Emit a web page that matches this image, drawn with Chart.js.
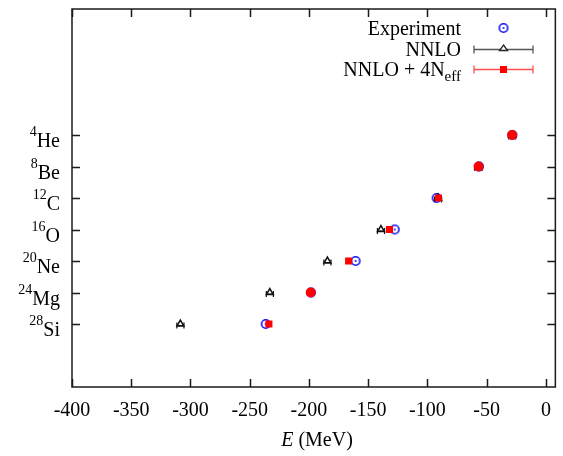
<!DOCTYPE html>
<html>
<head>
<meta charset="utf-8">
<script src="https://cdn.jsdelivr.net/npm/chart.js@4"></script>
<style>
html, body { margin: 0; padding: 0; background: #fff; }
</style>
</head>
<body>
<canvas id="myChart" width="563" height="456"></canvas>
<script>
// nuclei: mass number and symbol
const massNumbers = [4, 8, 12, 16, 20, 24, 28];
const symbols = ['He', 'Be', 'C', 'O', 'Ne', 'Mg', 'Si'];

// ground state energies (MeV)
const experiment = [-28.3, -56.5, -92.2, -127.6, -160.6, -198.3, -236.5];
const nnlo = [-28.5, -57.0, -91.0, -139.2, -184.4, -233.0, -308.5];
const nnlo4n = [-28.5, -56.8, -90.7, -132.0, -166.5, -198.5, -233.8];
// horizontal error bars (MeV)
const nnloErr = [3, 3, 3, 3, 3, 3, 3];

const xTicks = [-400, -350, -300, -250, -200, -150, -100, -50, 0];

const serif = '"Liberation Serif", "DejaVu Serif", serif';
const blue = '#1010f0';
const red = '#ff0000';
const FS = 20;

function pts(vals){
    return vals.map((v, i) => ({x: v, y: massNumbers[i]}));
}

// open circle with a dot in the middle (gnuplot pt 6 look)
function circleDot(){
    const c = document.createElement('canvas');
    c.width = 12; c.height = 12;
    const g = c.getContext('2d');
    g.strokeStyle = blue; g.lineWidth = 1.6;
    g.beginPath(); g.arc(6, 6, 4.2, 0, Math.PI * 2); g.stroke();
    g.fillStyle = blue;
    g.beginPath(); g.arc(6, 6, 1, 0, Math.PI * 2); g.fill();
    return c;
}
const expMarker = circleDot();

// red marker looks like a filled circle where it sits on the experiment point
const redStyles = nnlo4n.map((v, i) => Math.abs(v - experiment[i]) < 1 ? 'circle' : 'rect');

// small horizontal error bars under the NNLO triangles
const errBars = {
    id: 'errBars',
    beforeDatasetsDraw(chart){
        const ctx = chart.ctx, xs = chart.scales.x, ys = chart.scales.y;
        ctx.save();
        ctx.strokeStyle = '#111';
        ctx.lineWidth = 1.2;
        ctx.beginPath();
        nnlo.forEach((v, i) => {
            const y = ys.getPixelForValue(massNumbers[i]) + 1.5;
            const x0 = xs.getPixelForValue(v - nnloErr[i]);
            const x1 = xs.getPixelForValue(v + nnloErr[i]);
            ctx.moveTo(x0, y); ctx.lineTo(x1, y);
            ctx.moveTo(x0, y - 3); ctx.lineTo(x0, y + 3);
            ctx.moveTo(x1, y - 3); ctx.lineTo(x1, y + 3);
        });
        ctx.stroke();
        ctx.restore();
    }
};

const frame = {
    id: 'frame',
    afterDraw(chart){
        const ctx = chart.ctx, a = chart.chartArea;
        const xs = chart.scales.x, ys = chart.scales.y;
        ctx.save();

        // box and inward ticks
        ctx.strokeStyle = '#1a1a1a';
        ctx.lineWidth = 1.5;
        ctx.strokeRect(a.left, a.top, a.right - a.left, a.bottom - a.top);
        ctx.beginPath();
        xTicks.forEach(v => {
            const px = Math.round(xs.getPixelForValue(v)) + 0.5;
            ctx.moveTo(px, a.bottom); ctx.lineTo(px, a.bottom - 8);
            ctx.moveTo(px, a.top); ctx.lineTo(px, a.top + 8);
        });
        massNumbers.forEach(v => {
            const py = Math.round(ys.getPixelForValue(v)) + 0.5;
            ctx.moveTo(a.left, py); ctx.lineTo(a.left + 8, py);
            ctx.moveTo(a.right, py); ctx.lineTo(a.right - 8, py);
        });
        ctx.stroke();

        // y labels with superscript mass number
        ctx.fillStyle = '#000';
        ctx.textBaseline = 'alphabetic';
        ctx.textAlign = 'left';
        massNumbers.forEach((A, i) => {
            const py = ys.getPixelForValue(A);
            ctx.font = FS + 'px ' + serif;
            const wEl = ctx.measureText(symbols[i]).width;
            ctx.font = '14px ' + serif;
            const wA = ctx.measureText(String(A)).width;
            const x0 = 60 - wEl - wA;
            ctx.fillText(String(A), x0, py + 1);
            ctx.font = FS + 'px ' + serif;
            ctx.fillText(symbols[i], x0 + wA, py + 12);
        });

        // x axis title
        ctx.font = 'italic ' + FS + 'px ' + serif;
        const wE = ctx.measureText('E').width;
        ctx.font = FS + 'px ' + serif;
        const wRest = ctx.measureText(' (MeV)').width;
        const tx = 317 - (wE + wRest) / 2;
        ctx.font = 'italic ' + FS + 'px ' + serif;
        ctx.fillText('E', tx, 446);
        ctx.font = FS + 'px ' + serif;
        ctx.fillText(' (MeV)', tx + wE, 446);

        // legend
        const tr = 461, lx0 = 474, lx1 = 533, lxc = 503.5;
        ctx.textAlign = 'right';
        ctx.font = FS + 'px ' + serif;
        ctx.fillText('Experiment', tr, 35);
        ctx.fillText('NNLO', tr, 56);
        ctx.font = '15px ' + serif;
        const wSub = ctx.measureText('eff').width;
        ctx.fillText('eff', tr, 81);
        ctx.font = FS + 'px ' + serif;
        ctx.fillText('NNLO + 4N', tr - wSub, 76);

        ctx.drawImage(expMarker, lxc - 6, 28 - 6);

        function errLine(y, color){
            ctx.strokeStyle = color; ctx.lineWidth = 1.3;
            ctx.beginPath();
            ctx.moveTo(lx0, y); ctx.lineTo(lx1, y);
            ctx.moveTo(lx0, y - 4); ctx.lineTo(lx0, y + 4);
            ctx.moveTo(lx1, y - 4); ctx.lineTo(lx1, y + 4);
            ctx.stroke();
        }
        errLine(49.5, '#555');
        ctx.fillStyle = '#fff'; ctx.strokeStyle = '#222'; ctx.lineWidth = 1.3;
        ctx.beginPath();
        ctx.moveTo(lxc, 45); ctx.lineTo(lxc + 4, 50.5); ctx.lineTo(lxc - 4, 50.5); ctx.closePath();
        ctx.fill(); ctx.stroke();
        errLine(69.5, '#ff5050');
        ctx.fillStyle = red;
        ctx.fillRect(lxc - 3.5, 66, 7, 7);

        ctx.restore();
    }
};

const data = {
    datasets: [
        {
            label: 'NNLO + 4Neff',
            data: pts(nnlo4n),
            showLine: false,
            pointStyle: redStyles,
            pointRadius: 5,
            pointBackgroundColor: red,
            pointBorderColor: red,
            pointBorderWidth: 0,
            order: 0
        },
        {
            label: 'NNLO',
            data: pts(nnlo),
            showLine: false,
            pointStyle: 'triangle',
            pointRadius: 4,
            pointBackgroundColor: 'rgba(255,255,255,0)',
            pointBorderColor: '#111',
            pointBorderWidth: 1.5,
            order: 1
        },
        {
            label: 'Experiment',
            data: pts(experiment),
            showLine: false,
            pointStyle: expMarker,
            order: 2
        }
    ]
};

const config = {
    type: 'scatter',
    data: data,
    options: {
        responsive: false,
        animation: false,
        events: [],
        layout: { padding: { top: 9, right: 6, left: 0, bottom: 0 } },
        plugins: { legend: { display: false }, tooltip: { enabled: false } },
        scales: {
            x: {
                type: 'linear',
                min: -400,
                max: 8,
                grid: { display: false, drawTicks: false },
                border: { display: false },
                ticks: {
                    stepSize: 50,
                    includeBounds: false,
                    color: '#000',
                    padding: 12,
                    maxRotation: 0,
                    font: { family: serif, size: FS }
                },
                afterFit(s){ s.height = 69; }
            },
            y: {
                type: 'linear',
                min: -12,
                max: 36,
                reverse: true,
                grid: { display: false, drawTicks: false },
                border: { display: false },
                ticks: { display: false },
                afterFit(s){ s.width = 72; }
            }
        }
    },
    plugins: [errBars, frame]
};

const myChart = new Chart(document.getElementById('myChart').getContext('2d'), config);
</script>
</body>
</html>
